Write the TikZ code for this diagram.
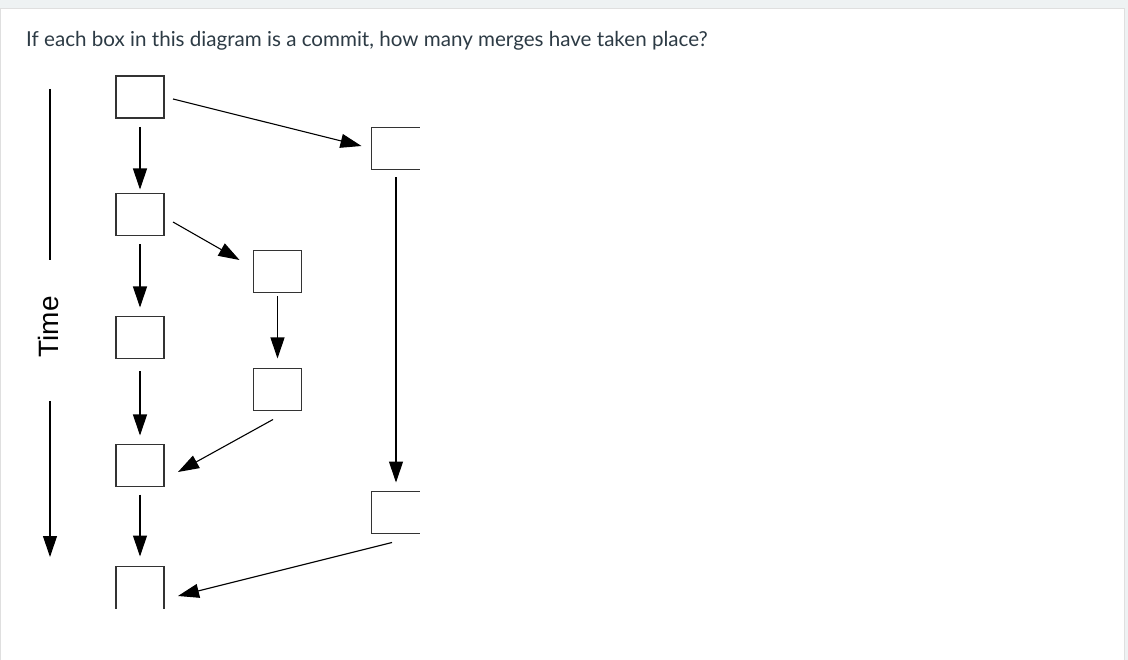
\documentclass[tikz,border=0pt]{standalone}
\usepackage{fontspec}
\setmainfont{Lato}
\newfontfamily\timefont{Liberation Sans}
\usetikzlibrary{arrows.meta,calc}
\definecolor{bggrey}{HTML}{EEF2F3}
\definecolor{txt}{HTML}{2D3B45}
\definecolor{boxline}{HTML}{333333}
\begin{document}
\begin{tikzpicture}[x=1pt,y=-1pt,
  commit/.style={minimum width=48pt,minimum height=42pt,inner sep=0pt,outer sep=0pt},
  boxdraw/.style={draw=boxline,line width=1.6pt},
  arr/.style={draw=black,line width=1.1pt,-{Triangle[length=21pt,width=14pt]}},
  plain/.style={draw=black,line width=1.1pt}]
\useasboundingbox (0,0) rectangle (1128,660);
\fill[bggrey] (0,0) rectangle (1128,660);
\filldraw[fill=white,draw=gray!25] (0,8) rectangle (1124,661);
\node[anchor=base west,text=txt,font=\fontsize{20.6}{24}\selectfont,inner sep=0pt] (title) at (26,47) {If each box in this diagram is a commit, how many merges have taken place?};
% commits
\node[commit,boxdraw] (A) at (140,97) {};
\node[commit,boxdraw] (C) at (140,214.5) {};
\node[commit,boxdraw] (E) at (140,337.5) {};
\node[commit,boxdraw] (G) at (140,465.5) {};
\node[commit] (I) at (140,587.5) {};
\draw[boxdraw] (I.south west) -- (I.north west) -- (I.north east) -- (I.south east);
\node[commit,boxdraw] (D) at (277.5,271.5) {};
\node[commit,boxdraw] (F) at (277.5,389.5) {};
\node[commit] (B) at (395.5,148.5) {};
\draw[boxdraw] (B.north east) -- (B.north west) -- (B.south west) -- (B.south east);
\node[commit] (H) at (395.5,512.5) {};
\draw[boxdraw] (H.north east) -- (H.north west) -- (H.south west) -- (H.south east);
% connectors
\draw[arr] ($(A.east)+(9,2)$) -- ($(B.west)+(-10,-2.5)$);
\draw[arr] ($(A.south)+(0,9)$) -- ($(C.north)+(0,-4)$);
\draw[arr] ($(C.east)+(9,7.5)$) -- ($(D.west)+(-14,-11.5)$);
\draw[arr] ($(C.south)+(0,9)$) -- ($(E.north)+(0,-9)$);
\draw[arr] ($(D.south)+(0,4)$) -- ($(F.north)+(0,-10)$);
\draw[arr] ($(B.south)+(0.5,8)$) -- ($(H.north)+(0.5,-9)$);
\draw[arr] ($(E.south)+(0,13)$) -- ($(G.north)+(0,-9)$);
\draw[arr] ($(F.south)+(-4.5,9)$) -- ($(G.east)+(14,6.5)$);
\draw[arr] ($(G.south)+(0,8)$) -- ($(I.north)+(0,-10)$);
\draw[arr] ($(H.south)+(-3.5,9)$) -- ($(I.east)+(14,8.5)$);
% time axis
\coordinate (t1) at (50,89);
\coordinate (t2) at (50,260);
\coordinate (t3) at (50,401);
\coordinate (t4) at (50,557);
\draw[plain] (t1) -- (t2);
\draw[arr] (t3) -- (t4);
\node[rotate=90,font=\timefont\fontsize{28}{30}\selectfont,inner sep=0pt] (time) at (48,327) {Time};
\end{tikzpicture}
\end{document}
